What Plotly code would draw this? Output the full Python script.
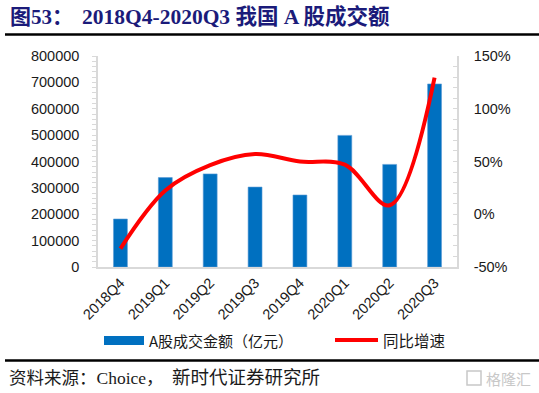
import plotly.graph_objects as go

categories = ["2018Q4", "2019Q1", "2019Q2", "2019Q3", "2019Q4", "2020Q1", "2020Q2", "2020Q3"]
turnover = [182000, 339000, 353000, 303000, 273000, 499000, 389000, 694000]
yoy_growth = [-32.6, 22.5, 46.5, 57.0, 50.0, 47.0, 8.5, 129.5]
left_ticks = [0, 100000, 200000, 300000, 400000, 500000, 600000, 700000, 800000]
right_ticks = [-50, 0, 50, 100, 150]

W, H = 539, 393
L, R, T, B = 98, 457, 56, 267
PW, PH = R - L, B - T


def px(x):
    return (x - L) / PW


def py(y):
    return (B - y) / PH


BLUE = "#0070C0"
RED = "#FF0000"
AXIS = "#D9D9D9"
TICKFONT = dict(family="Liberation Sans, Arial, sans-serif", size=14.5, color="#1a1a1a")
CJK = "Noto Sans CJK SC, sans-serif"
SERIF = "Liberation Serif, Noto Sans CJK SC, serif"

fig = go.Figure()
fig.add_trace(go.Bar(x=categories, y=turnover, marker=dict(color=BLUE, line=dict(color="#5B9BD5", width=0.6)),
                     width=0.31, showlegend=False, yaxis="y", hoverinfo="skip"))
fig.add_trace(go.Scatter(x=categories, y=yoy_growth, mode="lines",
                         line=dict(color=RED, width=4, shape="spline", smoothing=1.0),
                         showlegend=False, yaxis="y2", hoverinfo="skip"))

fig.update_layout(
    width=W, height=H,
    margin=dict(l=L, r=W - R, t=T, b=H - B, pad=0),
    paper_bgcolor="white", plot_bgcolor="white",
    xaxis=dict(type="category", showline=True, linecolor=AXIS, linewidth=1.5, ticks="",
               tickangle=-45, tickfont=TICKFONT, showgrid=False, zeroline=False),
    yaxis=dict(range=[0, 800000], tickvals=left_ticks, ticktext=[str(v) for v in left_ticks],
               showline=True, linecolor=AXIS, linewidth=1.5, ticks="outside", ticklen=4,
               tickcolor=AXIS, tickfont=TICKFONT, showgrid=False, zeroline=False,
               ticklabelstandoff=10,
               minor=dict(dtick=20000, ticks="outside", ticklen=4, tickcolor=AXIS)),
    yaxis2=dict(range=[-50, 150], tickvals=right_ticks, ticktext=[f"{v}%" for v in right_ticks],
                overlaying="y", side="right", showline=True, linecolor=AXIS, linewidth=1.5,
                ticks="inside", ticklen=4, tickcolor=AXIS, tickfont=TICKFONT, showgrid=False,
                zeroline=False, ticklabelstandoff=12,
                minor=dict(dtick=10, ticks="inside", ticklen=4, tickcolor=AXIS)),
    bargap=0.5,
)

shapes = []
annotations = []

# title and top rule
annotations.append(dict(x=px(8), y=py(17), xref="paper", yref="paper", xanchor="left", yanchor="middle",
                        text="<b>图53：</b>", showarrow=False,
                        font=dict(family=SERIF, size=21, color="#1B1B7A")))
annotations.append(dict(x=px(80), y=py(17), xref="paper", yref="paper", xanchor="left", yanchor="middle",
                        text="<b>2018Q4-2020Q3 我国 A 股成交额</b>", showarrow=False,
                        font=dict(family=SERIF, size=21.5, color="#1B1B7A")))
shapes.append(dict(type="line", xref="paper", yref="paper", x0=px(5), x1=px(539), y0=py(34.5), y1=py(34.5),
                   line=dict(color="black", width=2.5)))

# legend
shapes.append(dict(type="rect", xref="paper", yref="paper", x0=px(104), x1=px(144), y0=py(336), y1=py(345),
                   fillcolor=BLUE, line=dict(width=0)))
annotations.append(dict(x=px(147), y=py(340), xref="paper", yref="paper", xanchor="left", yanchor="middle",
                        text="A股成交金额（亿元）", showarrow=False, font=dict(family=CJK, size=15, color="#1a1a1a")))
shapes.append(dict(type="line", xref="paper", yref="paper", x0=px(335), x1=px(378), y0=py(340), y1=py(340),
                   line=dict(color=RED, width=4)))
annotations.append(dict(x=px(381), y=py(340), xref="paper", yref="paper", xanchor="left", yanchor="middle",
                        text="同比增速", showarrow=False, font=dict(family=CJK, size=15.5, color="#1a1a1a")))

# bottom rule and source
shapes.append(dict(type="line", xref="paper", yref="paper", x0=px(5), x1=px(539), y0=py(360.5), y1=py(360.5),
                   line=dict(color="black", width=2.5)))
annotations.append(dict(x=px(7), y=py(378), xref="paper", yref="paper", xanchor="left", yanchor="middle",
                        text="资料来源：Choice，", showarrow=False,
                        font=dict(family=SERIF, size=17.5, color="#1a1a1a")))
annotations.append(dict(x=px(170), y=py(378), xref="paper", yref="paper", xanchor="left", yanchor="middle",
                        text="新时代证券研究所", showarrow=False,
                        font=dict(family=SERIF, size=18.5, color="#1a1a1a")))
# watermark
shapes.append(dict(type="rect", xref="paper", yref="paper", x0=px(467), x1=px(481), y0=py(371), y1=py(385),
                   fillcolor="rgba(0,0,0,0)", line=dict(color="#C8C8C8", width=1.5)))
annotations.append(dict(x=px(484), y=py(378), xref="paper", yref="paper", xanchor="left", yanchor="middle",
                        text="格隆汇", showarrow=False, font=dict(family=CJK, size=15, color="#C8C8C8")))

fig.update_layout(shapes=shapes, annotations=annotations)
fig.write_html("out.html", config={"displayModeBar": False},
               post_script="document.body.style.margin='0';document.body.style.overflow='hidden';")
